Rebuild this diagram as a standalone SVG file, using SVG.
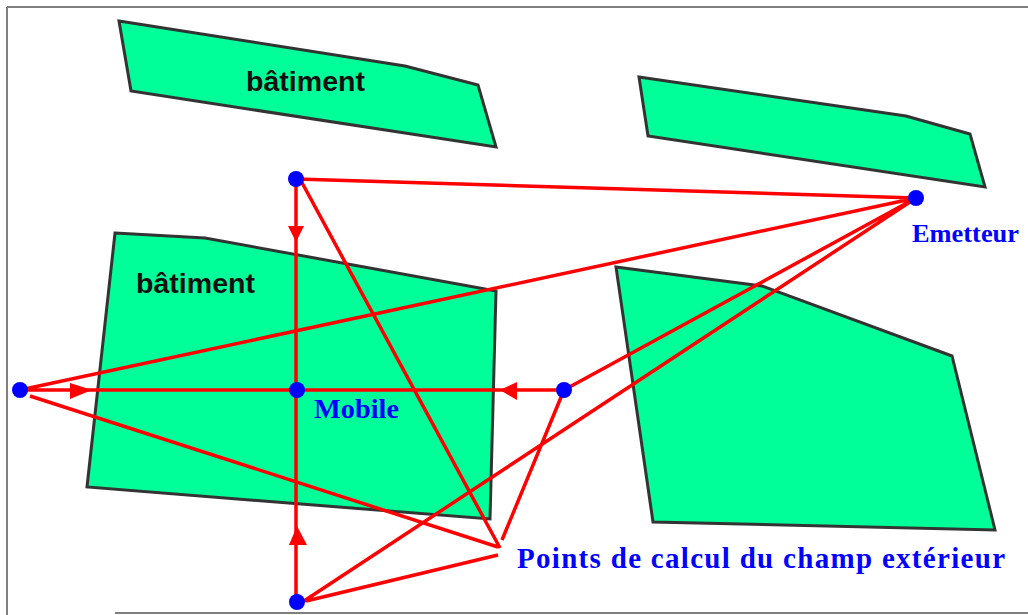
<svg xmlns="http://www.w3.org/2000/svg" width="1028" height="615" viewBox="0 0 1028 615">
<style>
.b{fill:#00ff99;stroke:#333;stroke-width:3;stroke-linejoin:miter}
.c{fill:none;stroke:#ff0000;stroke-width:3.5}
.a{fill:#ff0000}
.n{fill:#0000ff}
.t{font-family:"Liberation Serif",serif;font-weight:bold;fill:#0000ff}
.l{font-family:"Liberation Sans",sans-serif;font-weight:bold;fill:#111;font-size:27px}
</style>
<rect width="1028" height="615" fill="#fff"/>
<path d="M7 7H1028M7 7V615M115 613H1028" fill="none" stroke="#808080" stroke-width="2"/>
<g id="batiment-1"><polygon class="b" points="119,21 405,66 478,85 496,147 131,91"/><text class="l" x="246" y="91" textLength="119" lengthAdjust="spacingAndGlyphs">bâtiment</text></g>
<g id="batiment-2"><polygon class="b" points="639,77 906,116 970,134 985,187 648,136"/></g>
<g id="batiment-3"><polygon class="b" points="115,233 205,238 496,291 490,519 87,487"/><text class="l" x="136" y="293" textLength="119" lengthAdjust="spacingAndGlyphs">bâtiment</text></g>
<g id="batiment-4"><polygon class="b" points="616,267 762,286 952,356 995,530 653,522"/></g>
<g id="connectors">
<path class="c" d="M296 179L916 198M296 179V601M300 179L500 548M20 390H564M20 390L916 198M30 396L498 547M304 601L916 198M564 390L916 198M564 390L502 540M306 601L498 555"/>
<polygon class="a" points="296,242 288,226 304,226"/>
<polygon class="a" points="297,526 289,545 307,545"/>
<polygon class="a" points="92,390 70,383 70,399"/>
<polygon class="a" points="500,390 517,382 517,400"/>
</g>
<g id="point-haut"><circle class="n" cx="296" cy="179" r="8"/></g>
<g id="emetteur"><circle class="n" cx="916" cy="198" r="8"/><text class="t" x="912" y="242" font-size="25" textLength="107" lengthAdjust="spacingAndGlyphs">Emetteur</text></g>
<g id="point-gauche"><circle class="n" cx="20" cy="390" r="8"/></g>
<g id="mobile"><circle class="n" cx="297" cy="390" r="8"/><text class="t" x="314" y="418" font-size="28" textLength="85" lengthAdjust="spacingAndGlyphs">Mobile</text></g>
<g id="point-droit"><circle class="n" cx="564" cy="390" r="8"/></g>
<g id="point-bas"><circle class="n" cx="297" cy="602" r="8"/></g>
<g id="legende"><text class="t" x="517" y="568" font-size="29" textLength="488" lengthAdjust="spacing">Points de calcul du champ extérieur</text></g>
</svg>
